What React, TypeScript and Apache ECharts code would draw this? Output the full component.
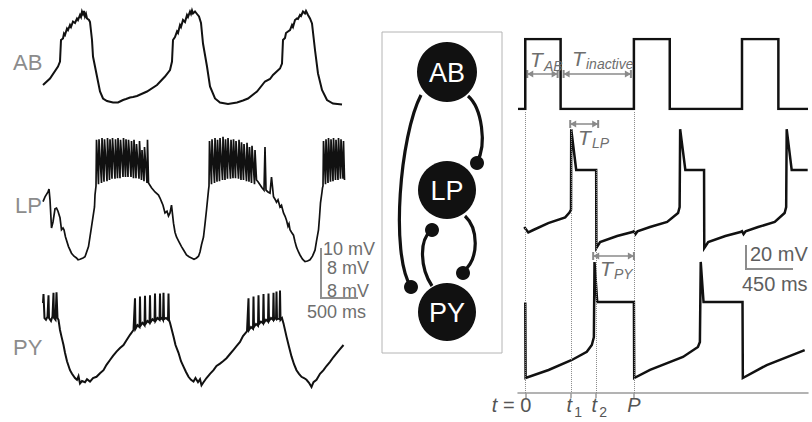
import React, { useEffect, useRef } from "react";
import * as echarts from "echarts";

// ---------------- DATA ----------------
// Left: recorded traces. [sample index, membrane potential mV]; one sample = LEFT_SAMPLE_MS
const LEFT_SAMPLE_MS = 6.5;
const LEFT_SPAN_MS = 3952;

const abRecorded: [number, number][] = [
  [0, -55], [14, -53.7], [30, -51.3], [34, -50.3], [36, -46], [40, -45.7], [42, -44.7], [44, -45], [48, -43.7], [50, -44],
  [54, -43], [56, -43.4], [60, -42.3], [64, -42.6], [68, -41.7], [70, -42], [74, -41], [76, -41.4], [78, -40.3], [80, -40.8],
  [82, -40.2], [84, -41.3], [86, -40.8], [88, -41.7], [92, -42], [94, -42.4], [98, -46], [100, -49.3], [108, -53.3], [114, -56.3],
  [120, -57.7], [128, -58.2], [140, -58.5], [150, -58.5], [156, -58.2], [160, -58], [166, -57.8], [174, -57.5], [180, -57.4], [188, -57.2],
  [208, -56.3], [228, -55], [244, -53.3], [254, -52], [258, -50.3], [260, -46], [264, -45.4], [268, -44.3], [270, -44.6], [274, -43],
  [276, -43.4], [280, -42], [284, -42.4], [288, -41], [290, -41.4], [294, -40.3], [296, -40.8], [298, -40.1], [300, -40.7], [304, -40.3],
  [308, -40.8], [312, -41.3], [316, -42.6], [320, -46.7], [328, -51.3], [334, -55.3], [344, -57.7], [354, -58.5], [370, -58.8], [388, -58.5],
  [400, -58.1], [410, -57.7], [428, -56.3], [444, -54.3], [454, -53.8], [460, -53], [474, -51.7], [478, -50.7], [480, -46], [484, -45.6],
  [486, -44.6], [490, -44.3], [494, -44], [498, -43], [500, -43.4], [504, -42], [508, -41.7], [510, -41.8], [514, -41], [516, -41.2],
  [520, -40.3], [524, -40.7], [526, -40.2], [530, -41], [534, -41.7], [538, -42.7], [544, -48], [550, -52.7], [558, -56], [568, -58],
  [580, -58.7], [598, -58.9],
];

const lpRecorded: [number, number][] = [
  [0, -41.6], [4, -40.8], [10, -40], [12, -39.5], [14, -41.3], [17, -46], [20, -45], [24, -42.8], [27, -42.7], [30, -43.2],
  [34, -44.3], [37, -46.3], [40, -46], [42, -46.3], [45, -47.5], [51, -49.1], [57, -50.2], [62, -50.7], [67, -51], [70, -51.3],
  [74, -51.2], [80, -51], [84, -50.8], [91, -49.1], [97, -45.8], [103, -42.5], [104, -40.5],
  [106, -39], [107, -31.3], [111, -38.7], [112, -31.2], [117, -38.5], [118, -31], [122, -38.3], [123, -31.2], [128, -38.2], [129, -31],
  [133, -38], [134, -31.2], [138, -37.8], [139, -31], [144, -37.8], [145, -31.2], [149, -37.7], [150, -31], [154, -37.7], [155, -31.3],
  [160, -37.5], [161, -31], [165, -37.5], [166, -31.2], [170, -37.5], [171, -31.3], [176, -37.5], [177, -31.5], [181, -37.7], [182, -31.3],
  [186, -37.7], [187, -32], [192, -37.8], [193, -31.5], [197, -38], [198, -33], [202, -38.2], [203, -32.5], [208, -38.5], [209, -31.3],
  [211, -38.5], [217, -39.3], [224, -40], [231, -40.5], [234, -41], [237, -41.6], [240, -42.2], [244, -43.5], [248, -43.2], [251, -44],
  [254, -43.5], [257, -42.2], [261, -45.2], [264, -46.7], [267, -47.5], [272, -48.3], [277, -49.1], [282, -49.8], [287, -50.5], [292, -50.8],
  [297, -51], [302, -51.2], [307, -51], [311, -50.7], [314, -50], [317, -48.8], [321, -47.5], [324, -45.3], [327, -43], [331, -39.7],
  [332, -39], [333, -31.5], [337, -38.7], [338, -31.2], [343, -38.5], [344, -31], [348, -38.3], [349, -31.3], [353, -38.2], [354, -31],
  [359, -38], [360, -30.8], [364, -38], [365, -31.2], [369, -37.8], [370, -31], [375, -37.8], [376, -31.3], [380, -37.7], [381, -31.2],
  [385, -37.7], [386, -31.5], [391, -37.8], [392, -31.3], [396, -38], [397, -31.7], [401, -38], [402, -32], [407, -38.2], [408, -31.8],
  [412, -38.3], [413, -32.5], [417, -38.5], [418, -32.3], [423, -38.7], [424, -33],
  [427, -38], [430, -38.3], [434, -38.8], [438, -39.3], [442, -39.7], [444, -32.5], [446, -39.7], [450, -40], [454, -40.2], [457, -37.5],
  [461, -40.8], [464, -41.2], [467, -41.7], [470, -41.3], [474, -42.5], [477, -42.2], [481, -43.5], [484, -44], [487, -44.7], [490, -45.7],
  [492, -45.3], [494, -46.3], [497, -46.7], [501, -47.2], [504, -48.3], [507, -49.2], [511, -50], [514, -50.5], [519, -51.2], [524, -51.6],
  [529, -51.5], [534, -51.3], [539, -50.7], [544, -49.7], [547, -48.2], [551, -46.3], [553, -44.2], [555, -41.8], [558, -40], [559, -39.3],
  [560, -39], [561, -31.5], [565, -38.7], [566, -31.2], [570, -38.5], [571, -31], [575, -38.3], [576, -31.2], [580, -38.2], [581, -31],
  [585, -38], [586, -31.3], [590, -38], [591, -31], [595, -37.8], [596, -31.2], [600, -37.8], [601, -31.5], [603, -38],
];

const pyRecorded: [number, number][] = [
  [0, -32.5], [1, -31], [3, -35], [6, -35.3], [9, -34.8], [11, -31.2], [12, -35], [16, -35.5], [19, -34.7], [21, -30.8],
  [22, -35], [25, -35.3], [27, -30.7], [29, -35], [31, -35.3], [34, -37], [37, -38.1], [41, -39.5], [44, -40.8], [48, -42.2],
  [54, -43.7], [58, -44.3], [64, -45], [68, -45.3], [71, -44.7], [74, -45.9], [78, -45.5], [84, -45.7], [88, -45.2], [94, -45.6],
  [100, -45], [107, -44.8], [114, -44.2], [121, -43.7], [127, -42.8], [134, -42], [140, -41.3], [147, -40.6], [154, -40], [161, -39.5],
  [167, -38.7], [174, -37.8], [181, -37],
  [184, -31.7], [185, -36.8], [189, -36.2], [193, -36.5], [194, -31.4], [195, -36.3], [199, -35.8], [203, -36.2], [204, -31.3], [205, -36],
  [209, -35.5], [213, -35.8], [214, -31.2], [215, -35.7], [219, -35.2], [223, -35.5], [224, -30.9], [225, -35.5], [229, -35], [233, -35.3],
  [234, -30.9], [235, -35.2], [238, -35], [240, -35.3], [241, -30.8], [242, -35.2], [246, -35], [250, -35.3], [251, -30.9], [252, -35.3],
  [254, -35.8], [261, -38.1], [265, -39.5], [271, -40.8], [276, -42.2], [281, -43.1], [286, -44], [291, -44.8], [296, -45.3], [301, -45.6],
  [305, -45], [310, -45.7], [314, -45.2], [317, -46.2], [321, -45.7], [327, -45], [334, -44.3], [341, -43.7], [347, -43], [354, -42.6],
  [360, -42.2], [367, -41.7], [374, -41], [381, -40.3], [387, -39.7], [394, -39], [400, -38], [407, -37.3],
  [408, -37.2], [411, -31.7], [412, -37], [416, -36.5], [420, -36.8], [421, -31.4], [422, -36.5], [426, -36], [430, -36.3], [431, -31.2],
  [432, -36], [436, -35.6], [440, -35.9], [441, -31], [442, -35.8], [446, -35.3], [450, -35.6], [451, -30.9], [452, -35.5], [456, -35],
  [460, -35.3], [461, -30.8], [462, -35.3], [465, -35], [466, -35.2], [467, -30.6], [468, -35.2], [472, -35], [473, -35.3], [474, -30.4],
  [475, -35.3], [478, -35],
  [481, -35.9], [487, -38.1], [492, -39.8], [497, -41.4], [502, -42.7], [507, -43.7], [512, -44.3], [517, -44.8], [522, -45], [527, -45.3],
  [532, -45.8], [537, -46.5], [541, -45.7], [547, -45.3], [554, -44.3], [561, -43.7], [567, -43], [574, -42.3], [581, -41.5], [587, -40.9],
  [594, -40.2], [601, -39.5],
];

// Right: model. [time ms, value]
const modelAbState: [number, number][] = [
  [-70, 0], [0, 0], [0, 1], [340, 1], [340, 0], [1045, 0], [1045, 1], [1390, 1], [1390, 0],
  [2085, 0], [2085, 1], [2435, 1], [2435, 0], [2720, 0],
];
const modelLpMv: [number, number][] = [
  [-10, -47.5], [29, -52], [77, -50], [221, -44.2], [384, -39.5], [425, -35.5], [440, -33], [442, 34], [490, 0], [682, 0],
  [684, -65], [720, -60], [884, -55], [1030, -51.7], [1045, -51], [1060, -53.5], [1080, -51], [1200, -47.5], [1365, -43.3], [1470, -35.8],
  [1485, -31], [1490, 34], [1540, 0], [1720, 0], [1722, -65], [1760, -60], [1925, -55], [2070, -51.7], [2085, -51], [2100, -53.5],
  [2120, -51], [2240, -47.5], [2400, -43.3], [2495, -35.8], [2510, -31], [2515, 34], [2563, 0], [2717, 0],
];
const modelPyMv: [number, number][] = [
  [0, -2], [3, -65], [224, -58.3], [448, -50], [592, -43.1], [640, -37.5], [660, -31], [666, 31.7], [692, -1.7], [1045, -1.7],
  [1048, -65], [1200, -58.3], [1517, -47.5], [1661, -39.2], [1680, -35], [1688, 31.7], [1715, -1.7], [2090, -1.7], [2093, -65],
  [2323, -54.2], [2688, -41.7],
];

// Event times (ms): t=0, t1, t2, P
const eventMs = [0, 442, 682, 1045];
const eventNames = ["0", "1", "2", "P"];
const traceNames = ["AB", "LP", "PY"];
const leftScaleLabels = ["10 mV", "8 mV", "8 mV", "500 ms"];
const rightScaleLabels = ["20 mV", "450 ms"];
const intervalNames = [["T", "AB"], ["T", "inactive"], ["T", "LP"], ["T", "PY"]];

// ---------------- LAYOUT ----------------
const FONT = "'Liberation Sans', Arial, Helvetica, sans-serif";
const GRAY = "#8a8a8a";
const TEXT_GRAY = "#6e6e6e";
const R_LEFT = 518, R_W = 290, R_MIN = -70, R_MAX = 2720;
const tx = (t: number) => R_LEFT + ((t - R_MIN) / (R_MAX - R_MIN)) * R_W;

function text(x: number, y: number, s: string, size: number, fill: string, extra: any = {}) {
  return {
    type: "text", x, y, silent: true, z: 10,
    style: { text: s, fontSize: size, fontFamily: FONT, fill, align: "left", verticalAlign: "middle", ...extra },
  };
}
function dimArrow(x1: number, x2: number, y: number) {
  const st = { stroke: GRAY, lineWidth: 1.5 };
  return [
    { type: "line", silent: true, shape: { x1, y1: y, x2, y2: y }, style: st },
    { type: "line", silent: true, shape: { x1, y1: y - 4, x2: x1, y2: y + 4 }, style: { stroke: GRAY, lineWidth: 2 } },
    { type: "line", silent: true, shape: { x1: x2, y1: y - 4, x2, y2: y + 4 }, style: { stroke: GRAY, lineWidth: 2 } },
    { type: "polygon", silent: true, shape: { points: [[x1, y], [x1 + 6, y - 3.5], [x1 + 6, y + 3.5]] }, style: { fill: GRAY } },
    { type: "polygon", silent: true, shape: { points: [[x2, y], [x2 - 6, y - 3.5], [x2 - 6, y + 3.5]] }, style: { fill: GRAY } },
  ];
}
function bez(x1: number, y1: number, c1x: number, c1y: number, c2x: number, c2y: number, x2: number, y2: number) {
  return {
    type: "bezierCurve", silent: true,
    shape: { x1, y1, x2, y2, cpx1: c1x, cpy1: c1y, cpx2: c2x, cpy2: c2y },
    style: { stroke: "#111", lineWidth: 3.2, fill: null },
  };
}

function buildGraphic() {
  const g: any[] = [];
  // left trace labels
  [[13, 62], [15, 205], [13, 347]].forEach(([x, y], i) => g.push(text(x, y, traceNames[i], 22, "#8c8c8c")));
  // left scale bar
  g.push({ type: "polyline", silent: true, shape: { points: [[321, 248], [321, 298], [358, 298]] }, style: { stroke: "#909090", lineWidth: 2, fill: null } });
  g.push(text(323, 249, leftScaleLabels[0], 18, TEXT_GRAY));
  g.push(text(327, 268, leftScaleLabels[1], 18, TEXT_GRAY));
  g.push(text(327, 291, leftScaleLabels[2], 18, TEXT_GRAY));
  g.push(text(307, 312, leftScaleLabels[3], 18, TEXT_GRAY));
  // circuit
  g.push({ type: "rect", silent: true, shape: { x: 382, y: 32, width: 120, height: 321 }, style: { fill: "#fff", stroke: "#b4b4b4", lineWidth: 1 }, z: 0 });
  g.push(bez(421, 95, 400, 135, 390, 255, 411, 287));
  g.push(bez(468, 96, 482, 108, 487, 145, 477, 162));
  g.push(bez(465, 216, 478, 228, 480, 258, 463, 272));
  g.push(bez(432, 286, 420, 268, 419, 240, 431, 231));
  const nodes = [[447, 72, 30], [447, 190, 29], [447, 312, 29]];
  nodes.forEach(([cx, cy, r]) => g.push({ type: "circle", silent: true, shape: { cx, cy, r }, style: { fill: "#111" } }));
  [[411, 287], [477, 163], [463, 273], [432, 230]].forEach(([cx, cy]) =>
    g.push({ type: "circle", silent: true, shape: { cx, cy, r: 7 }, style: { fill: "#111" } }));
  nodes.forEach(([cx, cy], i) => g.push(text(cx, cy + 1, traceNames[i], 27, "#fff", { align: "center" })));
  // interval arrows
  g.push(...dimArrow(tx(eventMs[0]) + 2, tx(340) - 3, 74));
  g.push(...dimArrow(tx(340) + 3, tx(eventMs[3]) - 3, 74));
  g.push(...dimArrow(tx(eventMs[1]) - 1, tx(eventMs[2]) + 2, 124));
  g.push(...dimArrow(tx(eventMs[2]) - 3, tx(eventMs[3]), 256));
  const tl = [[530, 59, 544, 66], [572, 58, 586, 64], [578, 137, 592, 143], [600, 268, 614, 274]];
  tl.forEach(([x, y, sx, sy], i) => {
    g.push(text(x, y, intervalNames[i][0], 21, TEXT_GRAY, { fontStyle: "italic" }));
    g.push(text(sx, sy, intervalNames[i][1], 14, TEXT_GRAY, { fontStyle: "italic" }));
  });
  // right scale bar
  g.push({ type: "polyline", silent: true, shape: { points: [[746, 245], [746, 269], [793, 269]] }, style: { stroke: "#8c8c8c", lineWidth: 2, fill: null } });
  g.push(text(750, 254, rightScaleLabels[0], 20, "#5e5e5e"));
  g.push(text(742, 284, rightScaleLabels[1], 20, "#5e5e5e"));
  // event labels under the axis
  const LY = 405;
  g.push(text(tx(eventMs[0]) + 6, LY, "= " + eventNames[0], 20, "#555", { align: "right" }));
  g.push(text(tx(eventMs[0]) - 28, LY, "t", 20, "#555", { align: "right", fontStyle: "italic" }));
  [1, 2].forEach((k) => {
    g.push(text(tx(eventMs[k]) - 2, LY, "t", 20, "#555", { align: "center", fontStyle: "italic" }));
    g.push(text(tx(eventMs[k]) + 3, LY + 7, eventNames[k], 14, "#555"));
  });
  g.push(text(tx(eventMs[3]), LY, eventNames[3], 20, "#555", { align: "center", fontStyle: "italic" }));
  return g;
}

function hiddenAxis(gridIndex: number, min: number, max: number) {
  return { type: "value", gridIndex, min, max, show: false, splitLine: { show: false } };
}
function trace(data: number[][], k: number, width: number, z = 3) {
  return {
    type: "line", xAxisIndex: k, yAxisIndex: k, data, showSymbol: false, symbol: "none",
    silent: true, z, lineStyle: { color: "#111", width, join: "miter" }, animation: false,
  };
}

export default function App() {
  const ref = useRef<HTMLDivElement>(null);
  useEffect(() => {
    document.body.style.margin = "0";
    if (!ref.current) return;
    const chart = echarts.init(ref.current, undefined, { renderer: "svg" });
    const toMs = (arr: [number, number][]) => arr.map(([i, v]) => [i * LEFT_SAMPLE_MS, v]);
    const guideTops = [0.993, 0.933, 0.788, 0.993];
    const option: any = {
      animation: false,
      grid: [
        { left: 43, top: 0, width: 304, height: 110 },
        { left: 43, top: 132, width: 304, height: 138 },
        { left: 43, top: 288, width: 304, height: 102 },
        { left: R_LEFT, top: 39, width: R_W, height: 70 },
        { left: R_LEFT, top: 122, width: R_W, height: 144 },
        { left: R_LEFT, top: 252, width: R_W, height: 144 },
        { left: R_LEFT, top: 110, width: R_W, height: 283 },
      ],
      xAxis: [
        hiddenAxis(0, 0, LEFT_SPAN_MS), hiddenAxis(1, 0, LEFT_SPAN_MS), hiddenAxis(2, 0, LEFT_SPAN_MS),
        hiddenAxis(3, R_MIN, R_MAX), hiddenAxis(4, R_MIN, R_MAX), hiddenAxis(5, R_MIN, R_MAX),
        {
          type: "value", gridIndex: 6, min: R_MIN, max: R_MAX, position: "bottom",
          axisLine: { show: true, lineStyle: { color: "#9a9a9a", width: 1.5 } },
          axisTick: { show: true, customValues: eventMs, length: 5, lineStyle: { color: "#9a9a9a", width: 1.5 } },
          axisLabel: { show: false }, splitLine: { show: false },
        },
      ],
      yAxis: [
        hiddenAxis(0, -60, -38), hiddenAxis(1, -53, -30), hiddenAxis(2, -47, -30),
        hiddenAxis(3, 0, 1), hiddenAxis(4, -80, 40), hiddenAxis(5, -80, 40), hiddenAxis(6, 0, 1),
      ],
      series: [
        trace(toMs(abRecorded), 0, 2),
        trace(toMs(lpRecorded), 1, 1.7),
        trace(toMs(pyRecorded), 2, 2),
        trace(modelAbState, 3, 2.5),
        trace(modelLpMv, 4, 2.5),
        trace(modelPyMv, 5, 2.5),
        {
          type: "line", xAxisIndex: 6, yAxisIndex: 6, data: [], silent: true, z: 1,
          markLine: {
            symbol: ["none", "none"], silent: true, animation: false, label: { show: false },
            lineStyle: { type: "dotted", color: "#8a8a8a", width: 1 },
            data: eventMs.map((t, k) => [{ coord: [t, guideTops[k]] }, { coord: [t, 0] }]),
          },
        },
      ],
      graphic: buildGraphic(),
    };
    chart.setOption(option);
    return () => chart.dispose();
  }, []);
  return <div ref={ref} style={{ width: 812, height: 422 }} />;
}
